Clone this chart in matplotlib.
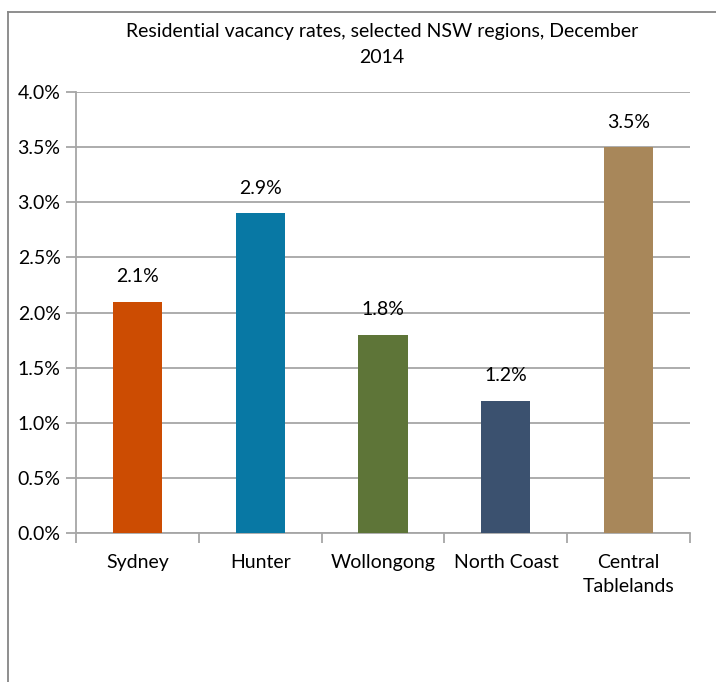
import matplotlib
matplotlib.use("Agg")
import matplotlib.pyplot as plt
from matplotlib.lines import Line2D
from matplotlib.ticker import FuncFormatter, MultipleLocator

regions = ["Sydney", "Hunter", "Wollongong", "North Coast", "Central\nTablelands"]
vacancy = [2.1, 2.9, 1.8, 1.2, 3.5]
colors = ["#CC4C02", "#0878A4", "#5E7538", "#3B516F", "#A8875A"]
title = "Residential vacancy rates, selected NSW regions, December\n2014"

plt.rcParams["font.family"] = ["Lato", "DejaVu Sans"]
FS = 14

fig = plt.figure(figsize=(7.16, 6.82), dpi=100)
ax = fig.add_axes([0.106, 0.2185, 0.858, 0.6465])

x = range(len(regions))
ax.bar(x, vacancy, width=0.4, color=colors, zorder=3)
for xi, v in zip(x, vacancy):
    ax.text(xi, v + 0.15, f"{v:.1f}%", ha="center", va="bottom", fontsize=FS)

ax.set_xlim(-0.5, len(regions) - 0.5)
ax.set_ylim(0, 4.0)
ax.yaxis.set_major_locator(MultipleLocator(0.5))
ax.yaxis.set_major_formatter(FuncFormatter(lambda y, _: f"{y:.1f}%"))
ax.grid(axis="y", color="#A6A6A6", lw=1.3, zorder=0)

# category boundaries get the tick marks, labels sit between them
ax.set_xticks([i + 0.5 for i in range(-1, len(regions))])
ax.set_xticklabels([])
ax.set_xticks(list(x), minor=True)
ax.set_xticklabels(regions, minor=True, fontsize=FS, linespacing=1.5)
ax.tick_params(axis="x", which="minor", length=0, pad=15)
ax.tick_params(axis="x", which="major", length=7, color="#A6A6A6", width=1.3, direction="out")
ax.tick_params(axis="y", length=7, color="#A6A6A6", width=1.3, labelsize=FS, pad=4)

for s in ["top", "right"]:
    ax.spines[s].set_visible(False)
for s in ["left", "bottom"]:
    ax.spines[s].set_color("#A6A6A6")
    ax.spines[s].set_linewidth(1.3)

fig.text(0.533, 0.935, title, ha="center", va="center", fontsize=FS, linespacing=1.65)

# outer chart border (only left and top visible in the crop)
fig.add_artist(Line2D([0.0112, 0.0112], [0.0, 0.982], color="#868686", lw=1.3))
fig.add_artist(Line2D([0.0112, 1.0], [0.982, 0.982], color="#868686", lw=1.3))

fig.savefig("out.png", dpi=100)
